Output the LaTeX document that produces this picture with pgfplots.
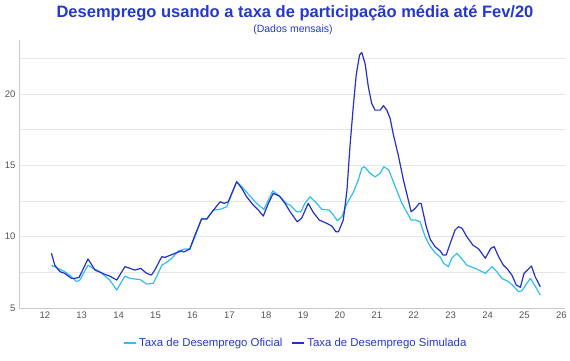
\documentclass[border=0pt]{standalone}
\usepackage{pgfplots}
\pgfplotsset{compat=1.18}
\usepackage{fontspec}
\setmainfont{Liberation Sans}
\definecolor{darkser}{HTML}{2430C8}
\definecolor{lightser}{HTML}{2EC0EC}
\definecolor{titleblue}{HTML}{2438D0}
\definecolor{gridgray}{HTML}{E6E6E6}
\definecolor{axgray}{HTML}{C8C8C8}
\definecolor{tickgray}{HTML}{555555}
\begin{document}
\begin{tikzpicture}[x=1pt,y=1pt]
\path (0,0) rectangle (570,360);
\node[font=\fontsize{16.5}{19}\selectfont\bfseries, text=titleblue] at (295,347) {Desemprego usando a taxa de participação média até Fev/20};
\node[font=\fontsize{10.5}{12}\selectfont, text=titleblue] at (293,330) {(Dados mensais)};
\begin{axis}[
  at={(19pt,52pt)}, anchor=south west,
  scale only axis, width=546pt, height=268pt,
  xmin=11.3, xmax=26.1, ymin=5, ymax=23.8,
  xtick={12,13,...,26}, ytick={5,10,15,20},
  minor ytick={7.5,12.5,17.5,22.5},
  ymajorgrids, yminorgrids,
  major grid style={gridgray, line width=0.8pt},
  minor grid style={gridgray, line width=0.8pt},
  axis x line*=bottom, axis y line*=left,
  axis line style={axgray, line width=0.8pt},
  tick style={draw=none},
  ticklabel style={font=\fontsize{9.5}{11}\selectfont, text=tickgray},
  /pgf/number format/assume math mode=true,
  legend columns=2,
  legend style={at={(0.507,-0.132)}, anchor=center, draw=none, fill=none,
    font=\fontsize{11.4}{13}\selectfont, text=titleblue,
    /tikz/every even column/.append style={column sep=7pt}},
  legend image code/.code={\draw[#1, line width=2pt] (0pt,0pt) -- (12pt,0pt);},
  clip=false,
]
\addplot[lightser, line width=1.2pt, line join=round] coordinates {
(12.18,8.0) (12.41,7.71) (12.54,7.55) (12.72,7.2) (12.86,6.85) (12.95,6.96)
(13.17,8.0) (13.31,7.78) (13.49,7.55) (13.76,6.96) (13.95,6.26) (14.17,7.24)
(14.31,7.08) (14.44,7.03) (14.58,7.0) (14.76,6.68) (14.94,6.73) (15.03,7.2)
(15.17,8.0) (15.30,8.2) (15.44,8.49) (15.62,9.0) (15.80,9.14) (15.93,9.14)
(16.07,10.0) (16.25,11.29) (16.39,11.24) (16.57,11.87) (16.75,11.92) (16.93,12.1)
(17.20,13.86) (17.38,13.39) (17.74,12.34) (17.94,11.92) (18.18,13.22) (18.36,12.85)
(18.56,12.3) (18.65,12.22) (18.83,11.75) (18.94,11.75) (19.05,12.34) (19.19,12.8)
(19.33,12.45) (19.51,11.92) (19.71,11.87) (19.82,11.52) (19.93,11.12) (20.05,11.4)
(20.19,12.34) (20.36,13.1) (20.50,14.0) (20.59,14.8) (20.66,14.91) (20.82,14.45)
(20.95,14.2) (21.09,14.45) (21.19,14.91) (21.32,14.7) (21.50,13.5) (21.68,12.34)
(21.93,11.17) (22.04,11.17) (22.17,11.05) (22.31,10.0) (22.45,9.3) (22.58,8.88)
(22.72,8.56) (22.81,8.13) (22.94,7.9) (23.03,8.49) (23.17,8.84) (23.31,8.42)
(23.44,8.0) (23.67,7.78) (23.94,7.43) (24.12,7.9) (24.25,7.55) (24.39,7.08)
(24.57,6.85) (24.70,6.54) (24.84,6.14) (24.93,6.21) (25.16,7.08) (25.29,6.54)
(25.43,5.91)
};
\addlegendentry{Taxa de Desemprego Oficial}
\addplot[darkser, line width=1.2pt, line join=round] coordinates {
(12.18,8.84) (12.27,8.0) (12.41,7.55) (12.54,7.43) (12.72,7.08) (12.81,7.08)
(12.93,7.15) (13.17,8.44) (13.36,7.66) (13.63,7.36) (13.76,7.24) (13.95,6.96)
(14.17,7.9) (14.31,7.78) (14.44,7.66) (14.60,7.78) (14.76,7.43) (14.89,7.31)
(14.98,7.66) (15.17,8.6) (15.26,8.55) (15.35,8.65) (15.57,8.88) (15.71,9.0)
(15.77,8.93) (15.93,9.14) (16.07,10.12) (16.25,11.24) (16.39,11.24) (16.48,11.57)
(16.61,11.99) (16.75,12.45) (16.86,12.34) (16.97,12.45) (17.20,13.86) (17.34,13.39)
(17.47,12.8) (17.65,12.22) (17.79,11.87) (17.92,11.45) (18.06,12.34) (18.19,13.04)
(18.36,12.85) (18.51,12.34) (18.65,11.75) (18.84,11.05) (18.96,11.29) (19.14,12.34)
(19.28,11.69) (19.44,11.17) (19.64,10.94) (19.78,10.75) (19.89,10.35) (19.96,10.35)
(20.09,11.17) (20.19,13.27) (20.27,16.3) (20.36,19.1) (20.44,21.34) (20.53,22.74)
(20.59,22.93) (20.68,22.16) (20.77,20.5) (20.86,19.35) (20.95,18.88) (21.09,18.88)
(21.18,19.19) (21.27,18.88) (21.36,18.3) (21.45,17.13) (21.58,15.73) (21.72,13.98)
(21.93,11.75) (22.04,11.99) (22.15,12.34) (22.20,12.34) (22.34,10.7) (22.45,9.8)
(22.58,9.3) (22.72,9.0) (22.79,8.72) (22.88,8.72) (22.99,9.54) (23.12,10.47)
(23.21,10.7) (23.31,10.59) (23.44,10.0) (23.60,9.42) (23.76,9.14) (23.94,8.49)
(24.09,9.19) (24.18,9.3) (24.30,8.6) (24.43,8.0) (24.54,7.73) (24.66,7.31)
(24.78,6.61) (24.89,6.45) (24.99,7.43) (25.19,7.95) (25.29,7.2) (25.43,6.49)
};
\addlegendentry{Taxa de Desemprego Simulada}
\end{axis}
\end{tikzpicture}
\end{document}
